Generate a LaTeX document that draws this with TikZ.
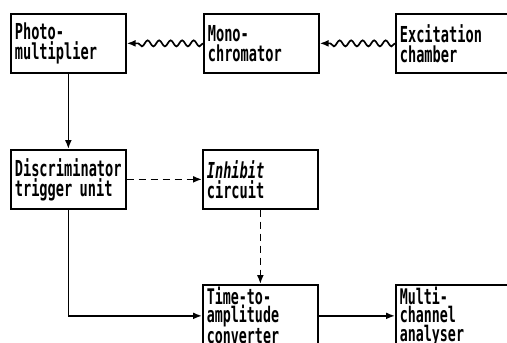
\documentclass[tikz,border=0pt]{standalone}
\usepackage{fontspec}
\usepackage{tikz}
\usetikzlibrary{positioning,arrows.meta,decorations.pathmorphing}
\newfontfamily\lettering{DejaVu Sans Mono}[FakeStretch=0.62]
\tikzset{
  unit/.style={draw, line width=1.7pt, anchor=north west, align=left, text width=107pt, inner xsep=4pt, inner ysep=0pt, minimum height=59pt, font=\lettering\bfseries\fontsize{22}{20}\selectfont},
  tall/.style={minimum height=62pt, text depth=41pt, font=\lettering\bfseries\fontsize{21.5}{18.5}\selectfont},
  arrow/.style={-{Latex[length=9pt,width=7pt]}, line width=1.7pt},
  dasharrow/.style={arrow, dash pattern=on 7pt off 5pt},
  wavy/.style={arrow, decorate, decoration={snake, segment length=11.5pt, amplitude=3pt, post length=10pt}}
}

\begin{document}
\begin{tikzpicture}[x=1pt, y=-1pt]
  \useasboundingbox (0,0) rectangle (507,343);
  \clip (0,0) rectangle (507,343);
  \node[unit] (pm) at (10,13) {Photo-\\multiplier};
  \node[unit] (mono) at (203,13) {Mono-\\chromator};
  \node[unit] (exc) at (395,13) {Excitation\\chamber};
  \node[unit] (disc) at (10,149) {Discriminator\\trigger unit};
  \node[unit] (inh) at (202,149) {\textit{Inhibit}\\circuit};
  \node[unit, tall] (tac) at (202,284) {Time-to-\\amplitude\\converter};
  \node[unit, tall] (mca) at (395,284) {Multi-\\channel\\analyser};
  \draw[wavy] (mono.west) -- (pm.east);
  \draw[wavy] (exc.west) -- (mono.east);
  \draw[arrow] (pm) -- (disc);
  \draw[dasharrow] (disc) -- (inh);
  \draw[dasharrow] (inh) -- (tac);
  \draw[arrow] (disc.south) |- (tac.west);
  \draw[arrow] (tac) -- (mca);
\end{tikzpicture}
\end{document}
